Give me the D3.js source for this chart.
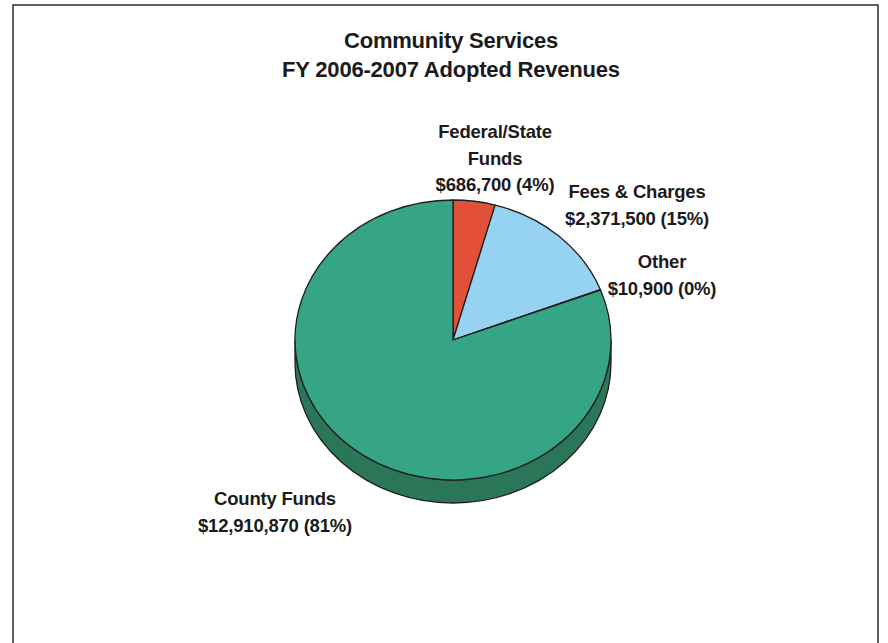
<!DOCTYPE html>
<html>
<head>
<meta charset="utf-8">
<script src="https://cdn.jsdelivr.net/npm/d3@7"></script>
<style>
  html, body { margin: 0; padding: 0; background: #ffffff; }
  svg { display: block; }
  text { font-family: "Liberation Sans", Arial, sans-serif; font-weight: bold; fill: #1b1b1b; }
</style>
</head>
<body>
<svg id="chart" width="888" height="643"></svg>
<script>
// Revenue sources, in drawing order (clockwise from 12 o'clock)
const categories = ["Federal/State Funds", "Fees & Charges", "Other", "County Funds"];
const labelLines = [["Federal/State", "Funds"], ["Fees & Charges"], ["Other"], ["County Funds"]];
const amounts = [686700, 2371500, 10900, 12910870];
const titleLines = ["Community Services", "FY 2006-2007 Adopted Revenues"];

// Styling
const topColors = ["#e2503a", "#96d3f2", "#35a586", "#35a586"];
const sideColors = ["#a8392a", "#6fa3bd", "#2b7658", "#2b7658"];
const strokeColor = "#1e1e1e";

const svg = d3.select("#chart");
const W = 888, H = 643;

// Outer frame (bottom edge runs past the page)
svg.append("rect")
  .attr("x", 13).attr("y", 5)
  .attr("width", 865).attr("height", 700)
  .attr("fill", "none")
  .attr("stroke", "#3a3a3a")
  .attr("stroke-width", 1.6);

// Title
svg.append("g").selectAll("text")
  .data(titleLines)
  .join("text")
  .attr("x", 451)
  .attr("y", (d, i) => 48 + i * 29)
  .attr("text-anchor", "middle")
  .attr("font-size", 22)
  .attr("letter-spacing", -0.2)
  .text(d => d);

// Pie geometry (tilted disc)
const cx = 453, cy = 340, rx = 158, ry = 140, depth = 23;
const total = d3.sum(amounts);
const pie = d3.pie().sort(null).value(d => d);
const arcs = pie(amounts);

const pt = (a, dy = 0) => [cx + rx * Math.sin(a), cy - ry * Math.cos(a) + dy];

// Side walls: only the front half (angles between 90 and 270 degrees) shows
const sideG = svg.append("g");
arcs.forEach((a, i) => {
  const a0 = Math.max(a.startAngle, Math.PI / 2);
  const a1 = Math.min(a.endAngle, 3 * Math.PI / 2);
  if (a1 <= a0) return;
  const p0 = pt(a0), p1 = pt(a1), q1 = pt(a1, depth), q0 = pt(a0, depth);
  const path = `M${p0[0]},${p0[1]} A${rx},${ry} 0 0 1 ${p1[0]},${p1[1]}` +
    ` L${q1[0]},${q1[1]} A${rx},${ry} 0 0 0 ${q0[0]},${q0[1]} Z`;
  sideG.append("path")
    .attr("d", path)
    .attr("fill", sideColors[i])
    .attr("stroke", strokeColor)
    .attr("stroke-width", 1.3)
    .attr("stroke-linejoin", "round");
});

// Top faces: circular arcs squashed vertically into the ellipse
const arc = d3.arc().innerRadius(0).outerRadius(rx);
svg.append("g")
  .attr("transform", `translate(${cx},${cy}) scale(1,${ry / rx})`)
  .selectAll("path")
  .data(arcs)
  .join("path")
  .attr("d", arc)
  .attr("fill", (d, i) => topColors[i])
  .attr("stroke", strokeColor)
  .attr("stroke-width", 1.3)
  .attr("stroke-linejoin", "round")
  .attr("vector-effect", "non-scaling-stroke");

// Data labels: name lines followed by "$amount (pct%)"
const money = d3.format(",");
const labelPlacement = [
  { x: 495, y: 138 },
  { x: 637, y: 198 },
  { x: 662, y: 268 },
  { x: 275, y: 505 }
];
const lineGap = 26.5;
arcs.forEach((a, i) => {
  const pct = Math.round(amounts[i] / total * 100);
  const lines = labelLines[i].concat([`$${money(amounts[i])} (${pct}%)`]);
  const g = svg.append("g").attr("class", "label");
  g.selectAll("text")
    .data(lines)
    .join("text")
    .attr("x", labelPlacement[i].x)
    .attr("y", (d, j) => labelPlacement[i].y + j * lineGap)
    .attr("text-anchor", "middle")
    .attr("font-size", 18.5)
    .attr("letter-spacing", -0.2)
    .text(d => d);
});
</script>
</body>
</html>
